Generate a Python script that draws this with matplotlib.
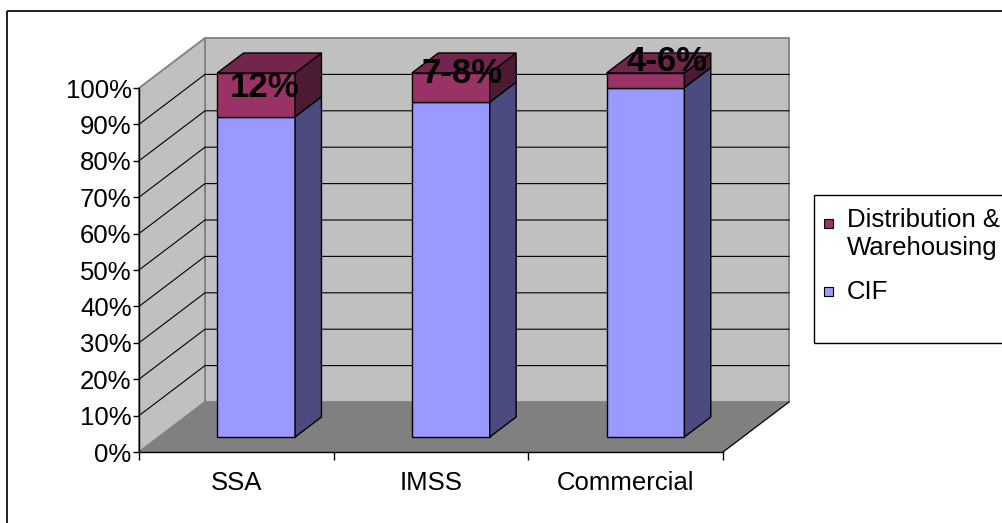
import matplotlib
matplotlib.use("Agg")
import matplotlib.pyplot as plt
from matplotlib.patches import Polygon, Rectangle
from matplotlib.lines import Line2D

# ---------------- data ----------------
categories = ["SSA", "IMSS", "Commercial"]
cif = [88, 92, 96]
dist_wh = [12, 8, 4]
bar_labels = ["12%", "7-8%", "4-6%"]
series_names = ["Distribution &\nWarehousing", "CIF"]
y_ticks = [0, 10, 20, 30, 40, 50, 60, 70, 80, 90, 100]
y_tick_labels = [f"{v}%" for v in y_ticks]

# ---------------- style ----------------
FONT = "Liberation Sans"
plt.rcParams["font.family"] = [FONT, "DejaVu Sans"]
FS = 18.5

W, H = 1003, 523
fig = plt.figure(figsize=(W / 100, H / 100), dpi=100)
fig.patch.set_facecolor("white")

# front plane of the 3D chart
ax = fig.add_axes([139 / W, 71 / H, 584 / W, 364 / H])
ax.set_xlim(0, len(categories))
ax.set_ylim(0, 100)
ax.patch.set_visible(False)

DX = 66 / (584 / 3)      # depth offset in category units
DY = 50 / 3.64           # depth offset in percent units


def P(x, y, d):
    return (x + d * DX, y + d * DY)


def poly(pts, **kw):
    p = Polygon([P(*q) for q in pts], closed=True, clip_on=False, **kw)
    ax.add_patch(p)
    return p


n = len(categories)
WALL = "#C0C0C0"
FLOOR = "#808080"
EDGE = "#808080"

# walls and floor
poly([(0, 0, 1), (n, 0, 1), (n, 100, 1), (0, 100, 1)], facecolor=WALL,
     edgecolor=EDGE, lw=1.3, zorder=0.1)
poly([(0, 0, 0), (0, 0, 1), (0, 100, 1), (0, 100, 0)], facecolor=WALL,
     edgecolor=EDGE, lw=1.3, zorder=0.1)
poly([(0, 0, 0), (n, 0, 0), (n, 0, 1), (0, 0, 1)], facecolor=FLOOR,
     edgecolor="none", lw=0, zorder=0.2)
xs, ys = zip(P(n, 0, 0), P(n, 0, 1))
ax.add_line(Line2D(xs, ys, color="black", lw=0.9, clip_on=False, zorder=0.3))

# gridlines
for v in y_ticks[1:-1]:
    pts = [P(0, v, 0), P(0, v, 1), P(n, v, 1)]
    xs, ys = zip(*pts)
    ax.add_line(Line2D(xs, ys, color="black", lw=0.8, clip_on=False, zorder=0.3))

# bars
C_CIF = ("#9999FF", "#4B4B80", "#6B6BB3")
C_DW = ("#993366", "#4D1A33", "#73264D")
x_in, x_out = 0.3, 0.7
d0, d1 = 0.3, 0.7
EC = "black"
LW = 1.0


def segment(i, lo, hi, cols, top):
    x0, x1 = i + x_in, i + x_out
    poly([(x0, lo, d0), (x1, lo, d0), (x1, hi, d0), (x0, hi, d0)],
         facecolor=cols[0], edgecolor=EC, lw=LW, zorder=2)
    poly([(x1, lo, d0), (x1, lo, d1), (x1, hi, d1), (x1, hi, d0)],
         facecolor=cols[1], edgecolor=EC, lw=LW, zorder=2)
    if top:
        poly([(x0, hi, d0), (x1, hi, d0), (x1, hi, d1), (x0, hi, d1)],
             facecolor=cols[2], edgecolor=EC, lw=LW, zorder=2)


label_offsets = [(-5, -3), (-2, 4), (8, 9)]   # pixel nudges (x right, y up)
for i in range(n):
    segment(i, 0, cif[i], C_CIF, False)
    segment(i, cif[i], cif[i] + dist_wh[i], C_DW, True)
    mid = cif[i] + dist_wh[i] / 2
    cx, cy = P(i + 0.5, mid, 0.5)
    ax.annotate(bar_labels[i], (cx, cy), xytext=label_offsets[i],
                textcoords="offset pixels", ha="center", va="center",
                fontsize=25, fontweight="bold", color="black",
                annotation_clip=False, zorder=5)

# axes (front plane)
for s in ("top", "right"):
    ax.spines[s].set_visible(False)
ax.spines["left"].set_linewidth(1.0)
ax.spines["bottom"].set_linewidth(1.0)
ax.spines["left"].set_zorder(1.5)
ax.spines["bottom"].set_zorder(1.5)

ax.set_yticks(y_ticks)
ax.set_yticklabels(y_tick_labels)
ax.tick_params(axis="y", direction="out", length=4.3, width=1, pad=1,
               labelsize=FS)
ax.set_xticks(range(n + 1))
ax.set_xticklabels([""] * (n + 1))
ax.set_xticks([i + 0.5 for i in range(n)], minor=True)
ax.set_xticklabels(categories, minor=True)
ax.tick_params(axis="x", which="major", direction="out", length=5.8, width=1)
ax.tick_params(axis="x", which="minor", length=0, pad=14, labelsize=FS)

# overlay for border and legend (pixel coordinates)
ov = fig.add_axes([0, 0, 1, 1])
ov.set_xlim(0, W)
ov.set_ylim(H, 0)
ov.axis("off")
ov.patch.set_visible(False)
ov.add_patch(Rectangle((7, 11), 1100, 600, fill=False, edgecolor="#202020",
                       lw=1.4, clip_on=False))
ov.add_patch(Rectangle((814, 195), 300, 148, fill=False, edgecolor="black",
                       lw=1.0, clip_on=False))
ov.add_patch(Rectangle((824, 219), 9, 9, facecolor=C_DW[0], edgecolor="black",
                       lw=0.8))
ov.add_patch(Rectangle((824, 287), 9, 9, facecolor=C_CIF[0], edgecolor="black",
                       lw=0.8))
l1, l2 = series_names[0].split("\n")
ov.text(847, 227, l1, fontsize=FS, va="baseline", ha="left")
ov.text(847, 255, l2, fontsize=FS, va="baseline", ha="left")
ov.text(847, 299, series_names[1], fontsize=FS, va="baseline", ha="left")

fig.savefig("out.png", dpi=100)
